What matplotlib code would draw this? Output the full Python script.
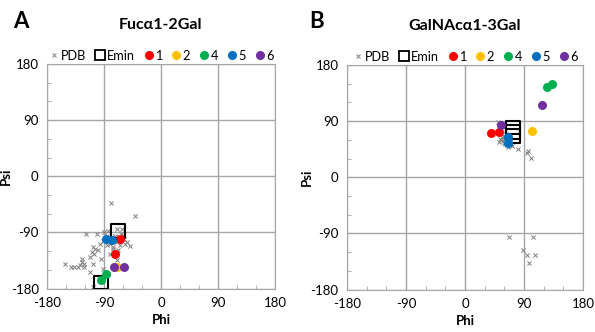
import numpy as np
import matplotlib
matplotlib.use('Agg')
import matplotlib.pyplot as plt
from matplotlib.lines import Line2D

plt.rcParams['font.family'] = ['Lato', 'DejaVu Sans']
plt.rcParams['font.size'] = 9
plt.rcParams['axes.unicode_minus'] = False

# ── Data (phi, psi in degrees) ──
titles = ["Fucα1-2Gal", "GalNAcα1-3Gal"]
panel_letters = ["A", "B"]

# Panel A
pdb_phi_a = [-79, -41, -118, -101, -90, -85, -88, -92, -96, -104, -80, -76, -68, -57,
             -60, -69, -62, -49, -107, -109, -106, -99, -112, -125, -125, -122, -152,
             -142, -137, -131, -128, -121, -107, -112, -95, -92, -87, -107, -84, -80,
             -69, -72, -66, -63, -74, -78, -70, -65, -58, -83, -86, -75, -60, -53]
pdb_psi_a = [-43, -64, -92, -92, -90, -95, -101, -104, -108, -116, -124, -116, -119, -109,
             -101, -85, -84, -112, -114, -122, -125, -118, -129, -132, -137, -140, -141,
             -145, -146, -145, -143, -146, -141, -153, -132, -148, -162, -178, -156, -108,
             -135, -95, -97, -92, -100, -98, -105, -110, -100, -88, -110, -113, -94, -105]
emin_phi_a = [-68, -95]
emin_psi_a = [-88, -170]
c1_a = ([-65, -73], [-100, -124])
c2_a = ([-69], [-145])
c4_a = ([-87, -95], [-157, -167])
c5_a = ([-87, -77], [-101, -102])
c6_a = ([-74, -58], [-145, -145])

# Panel B
pdb_phi_b = [55, 58, 60, 62, 64, 60, 57, 63, 66, 68, 61, 59, 70, 72, 81, 95, 96, 101,
             67, 104, 88, 95, 107, 98, 50, 54, 65, 69, 52]
pdb_psi_b = [60, 58, 55, 63, 52, 66, 64, 70, 60, 57, 53, 62, 54, 50, 45, 39, 42, 31,
             -95, -95, -116, -125, -125, -137, 88, 62, 48, 68, 57]
emin_phi_b = [73, 73, 73]
emin_psi_b = [80, 73, 66]
c1_b = ([40, 52], [71, 72])
c2_b = ([102], [74])
c4_b = ([125, 133], [145, 149])
c5_b = ([66, 66], [64, 55])
c6_b = ([55, 117], [84, 116])

colors = {"1": "#FF0000", "2": "#FFC000", "4": "#00B050", "5": "#0070C0", "6": "#7030A0"}

panels = [
    (pdb_phi_a, pdb_psi_a, emin_phi_a, emin_psi_a,
     {"1": c1_a, "2": c2_a, "4": c4_a, "5": c5_a, "6": c6_a}),
    (pdb_phi_b, pdb_psi_b, emin_phi_b, emin_psi_b,
     {"1": c1_b, "2": c2_b, "4": c4_b, "5": c5_b, "6": c6_b}),
]

fig = plt.figure(figsize=(5.95, 3.32), dpi=100)
rects = [[0.079, 0.131, 0.383, 0.676], [0.583, 0.128, 0.397, 0.676]]
psi_x = [-0.155, -0.145]
letter_x = [0.022, 0.52]
grid_col = "#A6A6A6"

for i, (pphi, ppsi, ephi, epsi, circ) in enumerate(panels):
    ax = fig.add_axes(rects[i])
    ax.scatter(pphi, ppsi, marker="x", s=9, color="#808080", lw=0.7, zorder=3)
    ax.scatter(ephi, epsi, marker="s", s=95, facecolor="none", edgecolor="black",
               lw=1.5, zorder=4)
    for k, (xs, ys) in circ.items():
        ax.scatter(xs, ys, s=42, color=colors[k], zorder=5, lw=0)

    ax.set_xlim(-180, 180)
    ax.set_ylim(-180, 180)
    ax.set_xticks([-180, -90, 0, 90, 180])
    ax.set_yticks([-180, -90, 0, 90, 180])
    ax.set_xticks(np.arange(-180, 181, 30), minor=True)
    ax.set_yticks(np.arange(-180, 181, 30), minor=True)
    ax.tick_params(which="major", length=0, pad=6, labelsize=9.5)
    ax.tick_params(which="minor", direction="in", length=3, color=grid_col)
    ax.grid(True, which="major", color=grid_col, lw=1)
    ax.set_axisbelow(True)
    for s in ax.spines.values():
        s.set_color(grid_col)
    ax.set_xlabel("Phi", fontweight="bold", fontsize=9.5, labelpad=4)
    ax.set_ylabel("Psi", fontweight="bold", fontsize=9.5)
    ax.yaxis.set_label_coords(psi_x[i], 0.5)

    handles = [
        Line2D([], [], marker="x", ls="none", color="#808080", ms=3.5, mew=0.7),
        Line2D([], [], marker="s", ls="none", mfc="none", mec="black", ms=7, mew=1.3),
    ] + [Line2D([], [], marker="o", ls="none", color=colors[k], ms=5.5) for k in circ]
    labels = ["PDB", "Emin"] + list(circ.keys())
    ax.legend(handles, labels, ncol=7, loc="lower center", bbox_to_anchor=(0.5, 1.0),
              frameon=False, handletextpad=0.0, columnspacing=0.6, handlelength=1.0,
              fontsize=9.2, borderaxespad=0.0, borderpad=0.2)

    ax.set_title(titles[i], fontweight="bold", fontsize=11.5, pad=25)
    fig.text(letter_x[i], 0.935, panel_letters[i], fontsize=16,
             fontweight="bold", va="center")

fig.savefig("out.png", dpi=100)
